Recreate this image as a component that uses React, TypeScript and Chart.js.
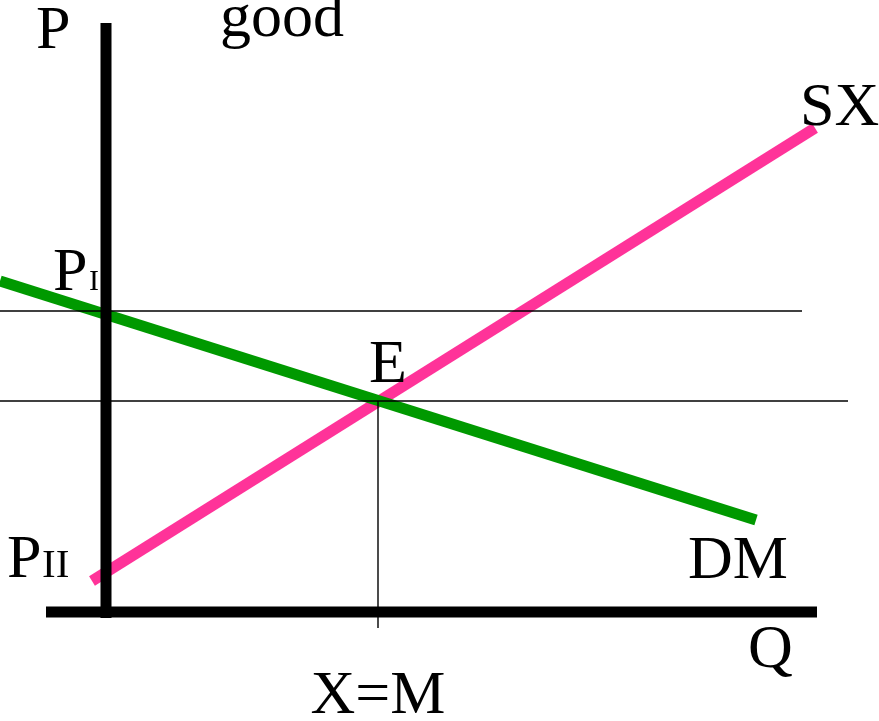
import React, { useEffect, useRef } from "react";
import { Chart, registerables } from "chart.js";

Chart.register(...registerables);

// Coordinates: Q (quantity) to the right of the P axis, P (price) above the Q axis
const demandQ = [-106, 650];
const demandP = [331, 92];
const supplyQ = [-14, 709];
const supplyP = [31, 484];
const equilibriumQ = 272;
const equilibriumP = 211;
const priceI = 301;
const lineIEnd = 696;
const lineEEnd = 742;
const axisQ = [-60, 711];
const axisP = [-6, 589];

const labelTexts = ["P", "good", "P", "I", "E", "P", "II", "DM", "Q", "SX", "X=M"];
const labelQ = [-70, 114, -53, -17, 263, -99, -64, 582, 642, 694, 272];
const labelP = [564, 576, 322, 322, 230, 35, 35, 34, -55, 487, -101];
const labelSize = [62, 62, 62, 30, 62, 62, 41, 62, 62, 62, 62];
const labelAlign = ["left", "left", "left", "left", "left", "left", "left", "left", "left", "left", "center"];

const pts = (xs: number[], ys: number[]) => xs.map((x, i) => ({ x, y: ys[i] }));

export default function App() {
  const ref = useRef<HTMLCanvasElement | null>(null);
  useEffect(() => {
    if (!ref.current) return;
    const labelsPlugin = {
      id: "labels",
      afterDraw(chart: any) {
        const ctx = chart.ctx;
        const xs = chart.scales.x;
        const ys = chart.scales.y;
        ctx.save();
        ctx.fillStyle = "#000";
        ctx.textBaseline = "alphabetic";
        labelTexts.forEach((t, i) => {
          ctx.font = `${labelSize[i]}px "Liberation Serif", "Times New Roman", serif`;
          ctx.textAlign = labelAlign[i] as CanvasTextAlign;
          ctx.fillText(t, xs.getPixelForValue(labelQ[i]), ys.getPixelForValue(labelP[i]));
        });
        ctx.restore();
      },
    };
    const line = (data: any[], color: string, width: number) => ({
      data,
      borderColor: color,
      backgroundColor: color,
      borderWidth: width,
      borderCapStyle: "butt",
      showLine: true,
      pointRadius: 0,
      fill: false,
      tension: 0,
      clip: false,
    });
    const chart = new Chart(ref.current, {
      type: "scatter",
      data: {
        datasets: [
          line(pts([-106, lineIEnd], [priceI, priceI]), "#000", 1.4),
          line(pts([-106, lineEEnd], [equilibriumP, equilibriumP]), "#000", 1.4),
          line(pts([equilibriumQ, equilibriumQ], [equilibriumP, -16]), "#000", 1.4),
          line(pts([0, 0], axisP), "#000", 11),
          line(pts(axisQ, [0, 0]), "#000", 11),
          line(pts(demandQ, demandP), "#009900", 11),
          line(pts(supplyQ, supplyP), "#ff3399", 11),
        ] as any,
      },
      options: {
        animation: false,
        responsive: false,
        maintainAspectRatio: false,
        layout: { padding: 0 },
        plugins: { legend: { display: false }, tooltip: { enabled: false }, title: { display: false } },
        scales: {
          x: { type: "linear", min: -106, max: 773, display: false },
          y: { type: "linear", min: -109, max: 612, display: false },
        },
      },
      plugins: [labelsPlugin],
    });
    return () => chart.destroy();
  }, []);
  return (
    <div style={{ position: "fixed", left: 0, top: 0, width: 879, height: 721, background: "#fff" }}>
      <canvas ref={ref} width={879} height={721} style={{ width: 879, height: 721 }} />
    </div>
  );
}
